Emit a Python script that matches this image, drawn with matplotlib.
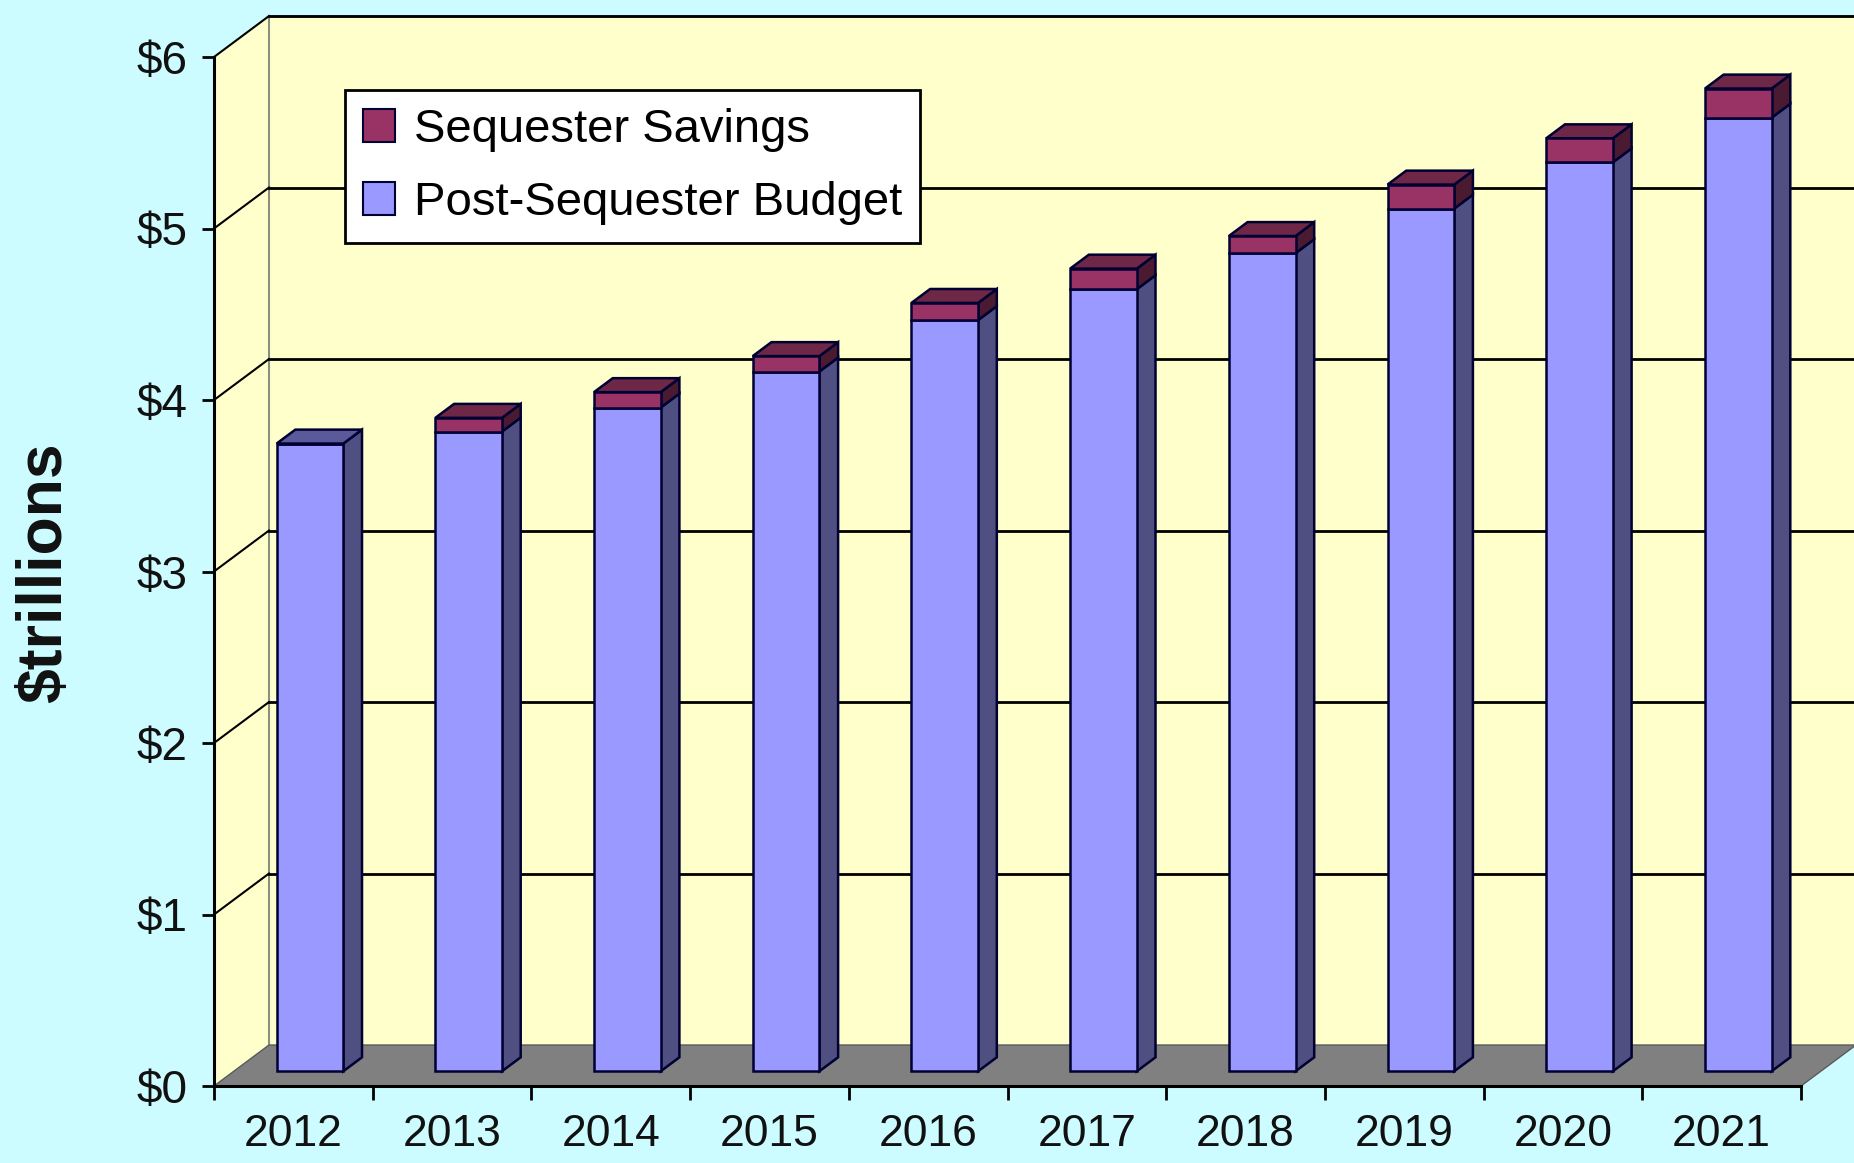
import matplotlib
matplotlib.use("Agg")
import matplotlib.pyplot as plt
from matplotlib.patches import Polygon, Patch

# ---- data ----
years = ["2012", "2013", "2014", "2015", "2016", "2017", "2018", "2019", "2020", "2021"]
post_sequester = [3.66, 3.73, 3.87, 4.08, 4.38, 4.56, 4.77, 5.03, 5.30, 5.56]
sequester_savings = [0.00, 0.08, 0.09, 0.09, 0.10, 0.12, 0.10, 0.14, 0.14, 0.17]
y_ticks = [0, 1, 2, 3, 4, 5, 6]
y_tick_labels = ["$0", "$1", "$2", "$3", "$4", "$5", "$6"]

FONT = ["Liberation Sans", "DejaVu Sans"]
plt.rcParams["font.family"] = FONT

BG = "#ccfcff"
WALL = "#ffffcc"
FLOOR = "#808080"
P_FRONT, P_SIDE, P_TOP = "#9999ff", "#4f4f82", "#5a5a9a"
M_FRONT, M_SIDE, M_TOP = "#993366", "#4a1a30", "#6e2746"
EDGE = "#000033"

W, H = 1854, 1163
fig = plt.figure(figsize=(W / 100, H / 100), dpi=100, facecolor=BG)
ax = fig.add_axes([214 / W, 1 - 1086 / H, 1587 / W, 1029 / H])
ax.set_facecolor("none")
n = len(years)
ax.set_xlim(0, n)
ax.set_ylim(0, 6)

# oblique depth offsets (data units)
DX, DY = 0.3466, 0.239
d0, d1 = 0.36, 0.70
bw = 0.42

# walls
ax.add_patch(Polygon([(DX, DY), (n + DX, DY), (n + DX, 6 + DY), (DX, 6 + DY)],
                     closed=True, facecolor=WALL, edgecolor="none", zorder=0, clip_on=False))
ax.add_patch(Polygon([(0, 0), (DX, DY), (DX, 6 + DY), (0, 6)],
                     closed=True, facecolor=WALL, edgecolor="none", zorder=0, clip_on=False))
# back wall borders
ax.plot([DX, n + DX], [6 + DY, 6 + DY], color="#8a8f80", lw=2, zorder=1, clip_on=False)
ax.plot([DX, DX], [DY, 6 + DY], color="#8a8f80", lw=1.5, zorder=1, clip_on=False)
# gridlines
for k in y_ticks[1:]:
    ax.plot([DX, n + DX], [k + DY, k + DY], color="black", lw=2, zorder=1, clip_on=False)
    ax.plot([0, DX], [k, k + DY], color="black", lw=1.5, zorder=1, clip_on=False)
# floor
ax.add_patch(Polygon([(0, 0), (n, 0), (n + DX, DY), (DX, DY)],
                     closed=True, facecolor=FLOOR, edgecolor="#5a5a5a", lw=1, zorder=2, clip_on=False))

# bars
sdx, sdy = (d1 - d0) * DX, (d1 - d0) * DY
base = d0 * DY
xc = [i + 0.48 + d0 * DX for i in range(n)]
ax.bar(xc, post_sequester, bottom=base, width=bw, color=P_FRONT, edgecolor=EDGE, lw=1.8, zorder=4)
tops = [base + p for p in post_sequester]
ax.bar(xc, sequester_savings, bottom=tops, width=bw, color=M_FRONT, edgecolor=EDGE, lw=1.8, zorder=4)

for i in range(n):
    x0 = xc[i] - bw / 2
    x1 = xc[i] + bw / 2
    yp = base + post_sequester[i]
    yt = yp + sequester_savings[i]
    ax.add_patch(Polygon([(x1, base), (x1 + sdx, base + sdy), (x1 + sdx, yp + sdy), (x1, yp)],
                         closed=True, facecolor=P_SIDE, edgecolor=EDGE, lw=1.8, zorder=3, clip_on=False))
    if sequester_savings[i] > 0:
        ax.add_patch(Polygon([(x1, yp), (x1 + sdx, yp + sdy), (x1 + sdx, yt + sdy), (x1, yt)],
                             closed=True, facecolor=M_SIDE, edgecolor=EDGE, lw=1.8, zorder=3, clip_on=False))
        topc = M_TOP
    else:
        topc = P_TOP
    ax.add_patch(Polygon([(x0, yt), (x1, yt), (x1 + sdx, yt + sdy), (x0 + sdx, yt + sdy)],
                         closed=True, facecolor=topc, edgecolor=EDGE, lw=1.8, zorder=3, clip_on=False))

# axes styling
for s in ["top", "right"]:
    ax.spines[s].set_visible(False)
for s in ["left", "bottom"]:
    ax.spines[s].set_linewidth(2.2)
    ax.spines[s].set_color("black")
    ax.spines[s].set_zorder(5)

ax.set_yticks(y_ticks)
ax.set_yticklabels(y_tick_labels, fontsize=33, color="#111111")
ax.set_xticks(range(n + 1))
ax.set_xticklabels([])
ax.set_xticks([i + 0.5 for i in range(n)], minor=True)
ax.set_xticklabels(years, minor=True, fontsize=32, color="#111111")
ax.tick_params(axis="y", length=9, width=2, pad=10)
ax.tick_params(axis="x", which="major", length=10, width=2)
ax.tick_params(axis="x", which="minor", length=0, pad=20)

fig.text(45 / W, 1 - 573 / H, "$trillions", rotation=90, ha="center", va="center",
         fontsize=45, fontweight="bold", color="#111111")

handles = [Patch(facecolor=M_FRONT, edgecolor=EDGE, lw=1.5, label="Sequester Savings"),
           Patch(facecolor=P_FRONT, edgecolor=EDGE, lw=1.5, label="Post-Sequester Budget")]
leg = fig.legend(handles=handles, loc="upper left", bbox_to_anchor=(345 / W, 1 - 90 / H),
                 fontsize=34, frameon=True, fancybox=False, edgecolor="black",
                 facecolor="white", framealpha=1, handlelength=0.68, handleheight=0.68,
                 handletextpad=0.4, labelspacing=0.62, borderpad=0.38, borderaxespad=0)
leg.get_frame().set_linewidth(2)
leg.set_zorder(10)

fig.savefig("out.png", dpi=100, facecolor=BG)
